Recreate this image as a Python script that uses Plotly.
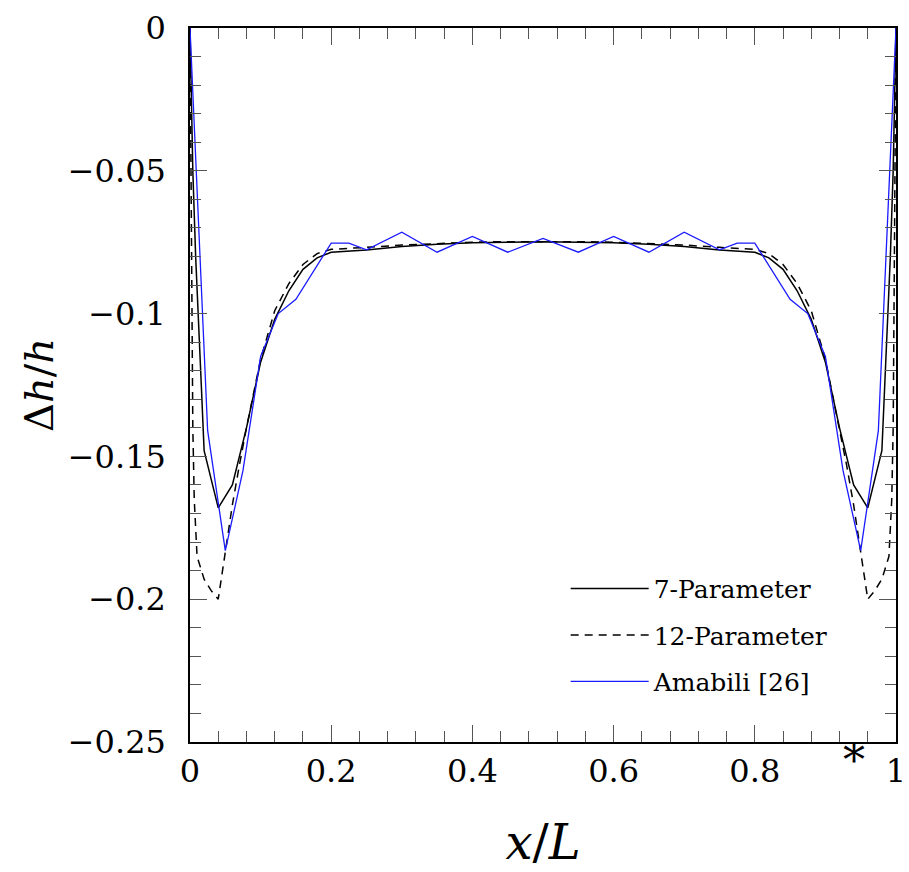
import plotly.graph_objects as go
import numpy as np

# 7-Parameter (solid black)
x7 = [0, 0.004, 0.008, 0.012, 0.016, 0.02, 0.04, 0.06, 0.08, 0.1, 0.12, 0.14, 0.16, 0.18, 0.2,
      0.25, 0.3, 0.35, 0.4, 0.45, 0.5, 0.55, 0.6, 0.65, 0.7, 0.75,
      0.8, 0.82, 0.84, 0.86, 0.88, 0.9, 0.92, 0.94, 0.96, 0.98, 0.984, 0.988, 0.992, 0.996, 1]
y7 = [0, -0.05, -0.08, -0.1, -0.125, -0.148, -0.168, -0.16, -0.14, -0.117, -0.102, -0.092, -0.0845, -0.0805, -0.0785,
      -0.0777, -0.0765, -0.0757, -0.0752, -0.075, -0.0748, -0.075, -0.0752, -0.0757, -0.0765, -0.0777,
      -0.0785, -0.0805, -0.0845, -0.092, -0.102, -0.117, -0.14, -0.16, -0.168, -0.148, -0.125, -0.1, -0.08, -0.05, 0]

# 12-Parameter (dashed black)
x12 = [0, 0.002, 0.004, 0.006, 0.01, 0.02, 0.03, 0.04, 0.05, 0.06, 0.07, 0.08, 0.1, 0.12, 0.14, 0.16, 0.18, 0.2,
       0.25, 0.3, 0.35, 0.4, 0.45, 0.5, 0.55, 0.6, 0.65, 0.7, 0.75,
       0.8, 0.82, 0.84, 0.86, 0.88, 0.9, 0.92, 0.93, 0.94, 0.95, 0.96, 0.97, 0.98, 0.99, 0.994, 0.996, 0.998, 1]
y12 = [0, -0.07, -0.14, -0.165, -0.185, -0.193, -0.197, -0.2, -0.183, -0.167, -0.153, -0.14, -0.116, -0.099, -0.0895, -0.0828, -0.079, -0.0775,
       -0.0768, -0.076, -0.0755, -0.075, -0.0748, -0.0747, -0.0748, -0.075, -0.0755, -0.076, -0.0768,
       -0.0775, -0.079, -0.0828, -0.0895, -0.099, -0.116, -0.14, -0.153, -0.167, -0.183, -0.2, -0.197, -0.193, -0.185, -0.165, -0.14, -0.07, 0]

# Amabili [26] (blue)
xa = [0, 0.025, 0.05, 0.075, 0.1, 0.125, 0.15, 0.2, 0.225, 0.25, 0.3, 0.35, 0.4, 0.45, 0.5,
      0.55, 0.6, 0.65, 0.7, 0.75, 0.775, 0.8, 0.85, 0.875, 0.9, 0.925, 0.95, 0.975, 1]
ya = [0, -0.141, -0.183, -0.155, -0.115, -0.1, -0.095, -0.0753, -0.0753, -0.0777, -0.0715, -0.0785, -0.073, -0.0785, -0.0737,
      -0.0785, -0.073, -0.0785, -0.0715, -0.0777, -0.0753, -0.0753, -0.095, -0.1, -0.115, -0.155, -0.183, -0.141, 0]

x_tickvals = [0, 0.2, 0.4, 0.6, 0.8, 1]
x_ticktext = ["0", "0.2", "0.4", "0.6", "0.8", "1"]
y_tickvals = [0, -0.05, -0.1, -0.15, -0.2, -0.25]
y_ticktext = ["0", "\u22120.05", "\u22120.1", "\u22120.15", "\u22120.2", "\u22120.25"]

FONT = "DejaVu Serif"

fig = go.Figure()
fig.add_trace(go.Scatter(x=x7, y=y7, mode="lines", name="7-Parameter",
                         line=dict(color="black", width=1.5), legendgroup="a"))
fig.add_trace(go.Scatter(x=x12, y=y12, mode="lines", name="12-Parameter",
                         line=dict(color="black", width=1.5, dash="8px,6px"), legendgroup="b"))
fig.add_trace(go.Scatter(x=xa, y=ya, mode="lines", name="Amabili [26]",
                         line=dict(color="#1a1aff", width=1.3), legendgroup="c"))

tickc = "#555555"
fig.update_xaxes(range=[0, 1], tickmode="array", tickvals=x_tickvals, ticktext=x_ticktext,
                 ticks="inside", ticklen=17, tickwidth=1.2, tickcolor=tickc, ticklabeloverflow="allow",
                 minor=dict(tickmode="array", tickvals=[round(v, 2) for v in np.arange(0, 1.0001, 0.04)],
                            ticks="inside", ticklen=11, tickwidth=1.2, tickcolor=tickc),
                 showline=True, linecolor="black", linewidth=1.5, mirror="allticks",
                 showgrid=False, zeroline=False,
                 tickfont=dict(family=FONT, size=32, color="black"),
                 title=dict(text="<i>x</i>/<i>L</i>", font=dict(family=FONT, size=48, color="black"), standoff=36))
fig.update_yaxes(range=[-0.25, 0], tickmode="array", tickvals=y_tickvals, ticktext=y_ticktext,
                 ticks="inside", ticklen=17, tickwidth=1.2, tickcolor=tickc,
                 minor=dict(tickmode="array", tickvals=[round(v, 2) for v in np.arange(-0.25, 0.0001, 0.01)],
                            ticks="inside", ticklen=11, tickwidth=1.2, tickcolor=tickc),
                 showline=True, linecolor="black", linewidth=1.5, mirror="allticks",
                 showgrid=False, zeroline=False, ticklabelstandoff=16,
                 tickfont=dict(family=FONT, size=32, color="black"),
                 title=dict(text="\u0394<i>h</i>/<i>h</i>", font=dict(family=FONT, size=40, color="black"), standoff=2))

fig.add_annotation(x=(877 - 190) / 716, y=(742 - 788) / 714, xref="paper", yref="paper", text="*",
                   showarrow=False, yanchor="bottom",
                   font=dict(family=FONT, size=44, color="black"))

fig.update_layout(
    width=909, height=872,
    margin=dict(l=190, r=3, t=28, b=130),
    plot_bgcolor="white", paper_bgcolor="white",
    showlegend=True,
    legend=dict(x=(571 - 190) / 716, y=0.247, xanchor="left", yanchor="top", bgcolor="rgba(0,0,0,0)",
                font=dict(family=FONT, size=25, color="black"), tracegroupgap=11,
                itemwidth=78),
)

fig.write_html("out.html")
